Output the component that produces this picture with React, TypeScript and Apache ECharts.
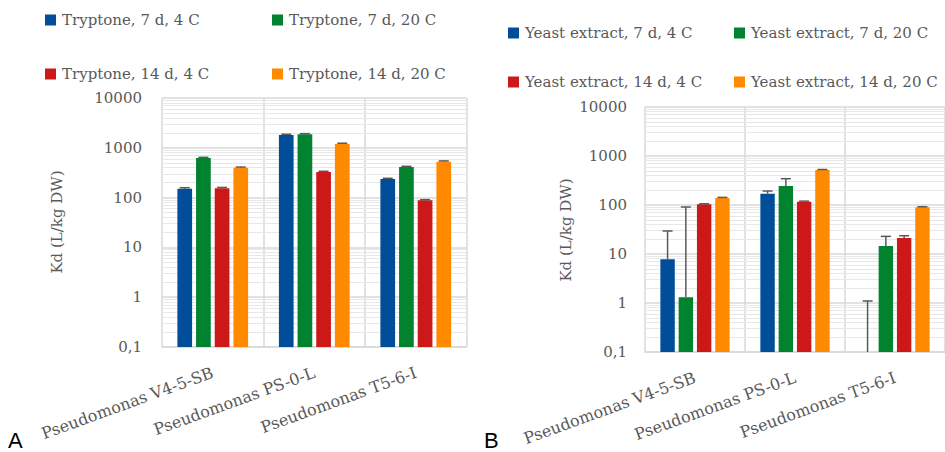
import React, { useEffect, useRef } from "react";
import * as echarts from "echarts";

const categories = ["Pseudomonas V4-5-SB", "Pseudomonas PS-0-L", "Pseudomonas T5-6-I"];
const yTicks = [0.1, 1, 10, 100, 1000, 10000];

const tryptoneNames = ["Tryptone, 7 d, 4 C", "Tryptone, 7 d, 20 C", "Tryptone, 14 d, 4 C", "Tryptone, 14 d, 20 C"];
const tryptone7d4C = [151, 1807, 236];
const tryptone7d20C = [624, 1862, 411];
const tryptone14d4C = [154, 327, 88];
const tryptone14d20C = [398, 1191, 525];
// upper ends of the error bars
const tryptone7d4CHi = [158, 1870, 244];
const tryptone7d20CHi = [645, 1925, 425];
const tryptone14d4CHi = [160, 338, 91];
const tryptone14d20CHi = [410, 1235, 545];

const yeastNames = ["Yeast extract, 7 d, 4 C", "Yeast extract, 7 d, 20 C", "Yeast extract, 14 d, 4 C", "Yeast extract, 14 d, 20 C"];
const yeast7d4C: (number | null)[] = [7.8, 170, null];
const yeast7d20C = [1.31, 244, 14.6];
const yeast14d4C = [103, 117, 21.2];
const yeast14d20C = [139, 518, 89.8];
const yeast7d4CHi = [29.5, 193, 1.1];
const yeast7d20CHi = [91, 344, 22.9];
const yeast14d4CHi = [106, 120, 23.6];
const yeast14d20CHi = [143, 530, 92];

const colors = ["#004E9A", "#00822F", "#CC1818", "#FF8A00"];
const FONT = '"DejaVu Serif", serif';
const TXT = "#595959";
const AXIS_MIN = 0.1;

const minorValues: number[] = [];
for (let d = -1; d <= 3; d++) {
  for (let k = 2; k <= 9; k++) minorValues.push(+(k * Math.pow(10, d)).toPrecision(3));
}

function buildPanel(
  gi: number,
  names: string[],
  values: (number | null)[][],
  his: number[][],
  barWidth: number,
  gapRatio: number
) {
  const spacing = barWidth * (1 + gapRatio);
  const series: any[] = [];
  series.push({
    type: "line",
    xAxisIndex: gi,
    yAxisIndex: gi,
    data: [null, null, null],
    showSymbol: false,
    silent: true,
    z: 1,
    markLine: {
      silent: true,
      z: 1,
      symbol: ["none", "none"],
      label: { show: false },
      lineStyle: { color: "#e8e8e8", type: "solid", width: 1 },
      data: minorValues.map((v) => ({ yAxis: v })),
    },
  });
  names.forEach((n, k) => {
    series.push({
      type: "bar",
      name: n,
      xAxisIndex: gi,
      yAxisIndex: gi,
      data: values[k].map((v) => (v == null ? "-" : v)),
      barWidth,
      barGap: `${Math.round(gapRatio * 100)}%`,
      itemStyle: { color: colors[k] },
      z: 3,
    });
  });
  const errData: number[][] = [];
  names.forEach((_, k) => {
    values[k].forEach((v, c) => {
      errData.push([c, k, v == null ? AXIS_MIN : v, his[k][c]]);
    });
  });
  series.push({
    type: "custom",
    xAxisIndex: gi,
    yAxisIndex: gi,
    silent: true,
    z: 6,
    encode: { x: 0, y: 3 },
    data: errData,
    renderItem: (params: any, api: any) => {
      const c = api.value(0);
      const k = api.value(1);
      const v = api.value(2);
      const hi = api.value(3);
      const b = api.coord([c, v]);
      const t = api.coord([c, hi]);
      const x = b[0] + (k - 1.5) * spacing;
      const st = { stroke: "#595959", lineWidth: 1.5 };
      return {
        type: "group",
        children: [
          { type: "line", shape: { x1: x, y1: b[1], x2: x, y2: t[1] }, style: st },
          { type: "line", shape: { x1: x - 5, y1: t[1], x2: x + 5, y2: t[1] }, style: st },
        ],
      };
    },
  });
  return series;
}

export default function App() {
  const ref = useRef<HTMLDivElement>(null);
  useEffect(() => {
    if (!ref.current) return;
    const chart = echarts.init(ref.current, undefined, { renderer: "svg" });

    const gridDefs = [
      { left: 162, top: 98, width: 304.5, height: 249 },
      { left: 645, top: 107, width: 301.5, height: 245 },
    ];
    const labelMargins = [20, 18];

    const xAxes = gridDefs.map((_, i) => ({
      type: "category",
      gridIndex: i,
      data: categories,
      axisTick: { show: false },
      axisLine: { show: true, lineStyle: { color: "#d9d9d9", width: 1.5 } },
      splitLine: { show: true, lineStyle: { color: "#d9d9d9", width: 1.5 } },
      axisLabel: {
        interval: 0,
        rotate: 20,
        margin: 25,
        color: TXT,
        fontFamily: FONT,
        fontSize: 16,
      },
    }));
    const yAxes = gridDefs.map((_, i) => ({
      type: "log",
      gridIndex: i,
      logBase: 10,
      min: yTicks[0],
      max: yTicks[yTicks.length - 1],
      startValue: AXIS_MIN,
      axisLine: { show: false },
      axisTick: { show: false },
      splitLine: { show: true, lineStyle: { color: "#d9d9d9", width: 1.5 } },
      axisLabel: {
        margin: labelMargins[i],
        color: TXT,
        fontFamily: FONT,
        fontSize: 15,
        formatter: (v: number) => String(+(+v).toPrecision(6)).replace(".", ","),
      },
    }));

    const legendPos = [
      [45, 11], [272, 11], [45, 65], [272, 65],
      [508, 24], [734, 24], [508, 73], [734, 73],
    ];
    const allNames = [...tryptoneNames, ...yeastNames];
    const legends = allNames.map((n, i) => ({
      left: legendPos[i][0],
      top: legendPos[i][1],
      padding: 0,
      data: [n],
      icon: "rect",
      itemWidth: 11,
      itemHeight: 11,
      selectedMode: false,
      textStyle: { color: TXT, fontFamily: FONT, fontSize: 15, lineHeight: 18, padding: [0, 0, 0, 1] },
    }));

    const series = [
      ...buildPanel(
        0,
        tryptoneNames,
        [tryptone7d4C, tryptone7d20C, tryptone14d4C, tryptone14d20C],
        [tryptone7d4CHi, tryptone7d20CHi, tryptone14d4CHi, tryptone14d20CHi],
        14.7,
        0.27
      ),
      ...buildPanel(
        1,
        yeastNames,
        [yeast7d4C, yeast7d20C, yeast14d4C, yeast14d20C],
        [yeast7d4CHi, yeast7d20CHi, yeast14d4CHi, yeast14d20CHi],
        14.4,
        0.27
      ),
    ];

    chart.setOption({
      animation: false,
      backgroundColor: "#ffffff",
      grid: gridDefs,
      xAxis: xAxes,
      yAxis: yAxes,
      legend: legends,
      series,
      graphic: [
        {
          type: "text",
          x: 57,
          y: 222,
          rotation: Math.PI / 2,
          style: { text: "Kd (L/kg DW)", fill: TXT, font: `15px ${FONT}`, textAlign: "center", textVerticalAlign: "middle" },
        },
        {
          type: "text",
          x: 566,
          y: 230,
          rotation: Math.PI / 2,
          style: { text: "Kd (L/kg DW)", fill: TXT, font: `15px ${FONT}`, textAlign: "center", textVerticalAlign: "middle" },
        },
        {
          type: "text",
          left: 8,
          top: 429,
          style: { text: "A", fill: "#000", font: '22px "Liberation Sans", Arial, sans-serif' },
        },
        {
          type: "text",
          left: 484,
          top: 429,
          style: { text: "B", fill: "#000", font: '22px "Liberation Sans", Arial, sans-serif' },
        },
      ],
    });
    return () => chart.dispose();
  }, []);
  return (
    <div
      ref={ref}
      style={{ position: "absolute", left: 0, top: 0, width: 945, height: 452 }}
    />
  );
}
